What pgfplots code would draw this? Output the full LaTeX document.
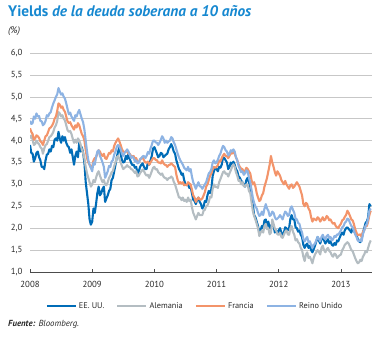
\documentclass[border=0pt]{standalone}
\usepackage{fontspec}
\setmainfont{PT Sans}
\usepackage{pgfplots}
\pgfplotsset{compat=1.18}
\usepackage{pgfplotstable}
\definecolor{cus}{RGB}{0,108,183}
\definecolor{cde}{RGB}{180,189,194}
\definecolor{cfr}{RGB}{243,148,106}
\definecolor{cuk}{RGB}{141,179,227}
\definecolor{ctitle}{RGB}{22,136,208}
\definecolor{ctext}{RGB}{40,40,40}

\pgfplotstableread{
x us de fr uk
2008.000 3.90 4.05 4.28 4.45
2008.021 3.72 4.12 4.20 4.38
2008.042 3.70 4.02 4.15 4.40
2008.062 3.52 3.90 4.02 4.55
2008.083 3.60 3.92 4.05 4.50
2008.104 3.72 4.00 4.12 4.62
2008.125 3.75 3.95 4.10 4.55
2008.146 3.62 3.92 4.06 4.56
2008.167 3.55 3.85 3.98 4.45
2008.188 3.40 3.82 3.96 4.44
2008.208 3.40 3.70 3.90 4.35
2008.229 3.35 3.82 4.00 4.38
2008.250 3.55 3.90 4.10 4.45
2008.271 3.68 3.92 4.12 4.58
2008.292 3.70 4.00 4.20 4.55
2008.312 3.80 4.08 4.28 4.62
2008.333 3.75 4.10 4.30 4.65
2008.354 3.88 4.14 4.34 4.76
2008.375 3.85 4.20 4.40 4.85
2008.396 4.02 4.30 4.50 4.92
2008.417 4.05 4.35 4.55 5.00
2008.438 4.00 4.45 4.68 5.06
2008.458 4.20 4.65 4.85 5.20
2008.479 4.05 4.62 4.82 5.12
2008.500 3.95 4.55 4.75 5.05
2008.521 4.10 4.58 4.78 5.08
2008.542 4.00 4.50 4.70 5.00
2008.562 4.08 4.46 4.66 4.96
2008.583 3.95 4.35 4.55 4.85
2008.604 3.88 4.24 4.44 4.72
2008.625 3.85 4.20 4.40 4.60
2008.646 3.72 4.22 4.42 4.64
2008.667 3.80 4.15 4.35 4.55
2008.688 3.62 4.04 4.30 4.50
2008.708 3.45 3.95 4.25 4.45
2008.729 3.65 4.02 4.35 4.58
2008.750 3.75 3.95 4.30 4.55
2008.771 3.62 4.05 4.40 4.64
2008.792 3.95 4.00 4.35 4.70
2008.812 3.75 3.92 4.25 4.60
2008.833 3.85 3.80 4.15 4.50
2008.854 3.72 3.72 4.10 4.42
2008.875 3.50 3.60 4.00 4.25
2008.896 3.05 3.40 3.78 4.00
2008.917 2.80 3.25 3.60 3.75
2008.938 2.55 3.15 3.50 3.55
2008.958 2.20 3.05 3.45 3.45
2008.979 2.08 2.95 3.38 3.38
2009.000 2.15 3.00 3.40 3.30
2009.021 2.45 3.10 3.55 3.50
2009.042 2.35 3.05 3.60 3.45
2009.062 2.55 3.15 3.62 3.62
2009.083 2.80 3.25 3.70 3.75
2009.104 2.95 3.30 3.78 3.78
2009.125 2.75 3.20 3.75 3.65
2009.146 2.80 3.12 3.68 3.58
2009.167 2.90 3.05 3.65 3.50
2009.188 2.95 3.10 3.70 3.40
2009.208 2.60 3.00 3.60 3.15
2009.229 2.68 2.98 3.58 3.22
2009.250 2.75 3.05 3.65 3.30
2009.271 2.85 3.15 3.72 3.42
2009.292 2.90 3.20 3.70 3.40
2009.312 3.10 3.28 3.78 3.52
2009.333 3.15 3.30 3.75 3.55
2009.354 3.30 3.42 3.88 3.68
2009.375 3.45 3.50 3.95 3.75
2009.396 3.62 3.62 4.00 3.86
2009.417 3.75 3.65 4.05 3.90
2009.438 3.85 3.58 3.98 3.86
2009.458 3.70 3.50 3.90 3.80
2009.479 3.55 3.42 3.80 3.70
2009.500 3.50 3.35 3.75 3.65
2009.521 3.52 3.38 3.74 3.72
2009.542 3.65 3.40 3.75 3.75
2009.562 3.58 3.44 3.76 3.80
2009.583 3.70 3.40 3.70 3.75
2009.604 3.58 3.40 3.70 3.68
2009.625 3.50 3.35 3.65 3.60
2009.646 3.44 3.34 3.64 3.64
2009.667 3.45 3.30 3.65 3.60
2009.688 3.38 3.26 3.58 3.52
2009.708 3.40 3.30 3.60 3.55
2009.729 3.25 3.18 3.52 3.48
2009.750 3.30 3.20 3.50 3.50
2009.771 3.40 3.26 3.56 3.58
2009.792 3.45 3.30 3.60 3.60
2009.812 3.48 3.34 3.62 3.64
2009.833 3.40 3.30 3.55 3.65
2009.854 3.35 3.24 3.50 3.60
2009.875 3.35 3.20 3.50 3.65
2009.896 3.50 3.22 3.52 3.74
2009.917 3.45 3.15 3.45 3.70
2009.938 3.55 3.22 3.50 3.82
2009.958 3.65 3.30 3.55 3.90
2009.979 3.82 3.38 3.60 4.00
2010.000 3.85 3.40 3.60 4.00
2010.021 3.78 3.34 3.56 3.96
2010.042 3.70 3.35 3.55 3.95
2010.062 3.62 3.28 3.50 3.90
2010.083 3.65 3.25 3.50 3.95
2010.104 3.72 3.22 3.48 4.02
2010.125 3.70 3.25 3.55 4.10
2010.146 3.62 3.18 3.48 4.05
2010.167 3.65 3.15 3.45 3.95
2010.188 3.68 3.14 3.44 4.00
2010.208 3.70 3.10 3.40 3.95
2010.229 3.80 3.14 3.44 3.98
2010.250 3.85 3.15 3.45 4.00
2010.271 3.92 3.18 3.48 4.08
2010.292 3.85 3.15 3.45 4.05
2010.312 3.75 3.06 3.42 3.96
2010.333 3.70 3.00 3.40 3.90
2010.354 3.55 2.90 3.22 3.80
2010.375 3.45 2.80 3.10 3.70
2010.396 3.35 2.70 3.02 3.62
2010.417 3.30 2.70 3.05 3.55
2010.438 3.22 2.64 3.02 3.50
2010.458 3.25 2.70 3.05 3.45
2010.479 3.10 2.62 2.98 3.38
2010.500 3.00 2.65 3.00 3.35
2010.521 2.98 2.60 2.98 3.32
2010.542 3.00 2.70 3.05 3.40
2010.562 2.92 2.62 3.02 3.30
2010.583 2.95 2.65 3.00 3.35
2010.604 2.80 2.48 2.88 3.18
2010.625 2.65 2.35 2.75 3.05
2010.646 2.62 2.28 2.70 2.98
2010.667 2.55 2.20 2.60 2.90
2010.688 2.65 2.28 2.66 2.98
2010.708 2.70 2.35 2.70 3.05
2010.729 2.60 2.30 2.66 2.96
2010.750 2.55 2.30 2.65 2.95
2010.771 2.45 2.30 2.68 2.90
2010.792 2.50 2.40 2.75 2.95
2010.812 2.62 2.42 2.82 3.00
2010.833 2.60 2.50 2.95 3.05
2010.854 2.75 2.52 3.00 3.15
2010.875 2.85 2.60 3.10 3.25
2010.896 2.80 2.72 3.20 3.28
2010.917 2.90 2.70 3.25 3.35
2010.938 3.20 2.90 3.35 3.50
2010.958 3.30 3.00 3.40 3.55
2010.979 3.38 2.94 3.38 3.48
2011.000 3.35 2.95 3.40 3.50
2011.021 3.30 2.92 3.44 3.56
2011.042 3.40 3.05 3.55 3.65
2011.062 3.38 3.12 3.52 3.70
2011.083 3.45 3.20 3.60 3.80
2011.104 3.62 3.28 3.66 3.88
2011.125 3.60 3.30 3.70 3.85
2011.146 3.55 3.24 3.64 3.78
2011.167 3.50 3.25 3.65 3.75
2011.188 3.35 3.18 3.60 3.66
2011.208 3.40 3.25 3.65 3.70
2011.229 3.50 3.32 3.72 3.78
2011.250 3.45 3.40 3.70 3.75
2011.271 3.52 3.46 3.74 3.80
2011.292 3.45 3.40 3.70 3.75
2011.312 3.35 3.28 3.62 3.62
2011.333 3.30 3.20 3.55 3.55
2011.354 3.18 3.08 3.46 3.42
2011.375 3.15 3.10 3.40 3.35
2011.396 3.08 3.00 3.36 3.28
2011.417 3.05 3.05 3.35 3.30
2011.438 2.98 2.96 3.28 3.22
2011.458 2.95 2.95 3.30 3.25
2011.479 3.10 3.00 3.38 3.32
2011.500 3.15 3.00 3.35 3.30
2011.521 3.05 2.85 3.30 3.15
2011.542 2.95 2.80 3.25 3.05
2011.562 2.75 2.60 3.10 2.88
2011.583 2.55 2.40 3.00 2.70
2011.604 2.30 2.28 3.05 2.58
2011.625 2.25 2.20 2.95 2.50
2011.646 2.15 2.10 2.80 2.45
2011.667 2.05 2.00 2.70 2.35
2011.688 1.90 1.82 2.62 2.28
2011.708 1.95 1.90 2.65 2.30
2011.729 2.05 1.95 2.75 2.38
2011.750 2.00 1.90 2.80 2.30
2011.771 2.18 2.05 2.95 2.45
2011.792 2.20 2.10 3.05 2.55
2011.812 2.05 1.98 3.15 2.45
2011.833 2.15 2.00 3.30 2.40
2011.854 2.00 1.86 3.45 2.28
2011.875 2.05 1.90 3.65 2.30
2011.896 2.10 2.20 3.50 2.38
2011.917 2.05 2.10 3.40 2.35
2011.938 1.90 1.98 3.28 2.25
2011.958 1.95 1.95 3.20 2.20
2011.979 1.88 1.86 3.30 2.22
2012.000 1.95 1.85 3.25 2.25
2012.021 2.00 1.90 3.20 2.30
2012.042 1.90 1.80 3.10 2.25
2012.062 1.85 1.78 3.05 2.20
2012.083 1.90 1.85 3.00 2.30
2012.104 2.02 1.92 3.08 2.38
2012.125 2.00 1.95 3.00 2.35
2012.146 1.95 1.86 2.95 2.28
2012.167 2.00 1.85 2.90 2.30
2012.188 2.22 2.00 2.98 2.45
2012.208 2.30 2.05 3.00 2.50
2012.229 2.20 1.92 2.92 2.42
2012.250 2.20 1.85 2.95 2.35
2012.271 2.02 1.72 3.00 2.22
2012.292 2.00 1.75 3.05 2.20
2012.312 1.92 1.68 3.00 2.12
2012.333 1.95 1.65 2.95 2.10
2012.354 1.85 1.55 2.85 1.98
2012.375 1.80 1.50 2.75 1.90
2012.396 1.62 1.35 2.55 1.75
2012.417 1.55 1.25 2.50 1.70
2012.438 1.62 1.40 2.58 1.76
2012.458 1.65 1.45 2.55 1.80
2012.479 1.55 1.32 2.45 1.68
2012.500 1.60 1.35 2.40 1.70
2012.521 1.50 1.28 2.25 1.62
2012.542 1.45 1.20 2.15 1.55
2012.562 1.52 1.32 2.22 1.62
2012.583 1.60 1.40 2.20 1.65
2012.604 1.70 1.45 2.18 1.72
2012.625 1.80 1.50 2.25 1.80
2012.646 1.72 1.46 2.22 1.76
2012.667 1.65 1.40 2.15 1.70
2012.688 1.75 1.55 2.20 1.80
2012.708 1.80 1.60 2.25 1.85
2012.729 1.72 1.50 2.18 1.78
2012.750 1.65 1.45 2.20 1.75
2012.771 1.70 1.52 2.28 1.82
2012.792 1.75 1.55 2.25 1.85
2012.812 1.66 1.48 2.18 1.78
2012.833 1.70 1.45 2.20 1.80
2012.854 1.62 1.38 2.14 1.72
2012.875 1.60 1.35 2.10 1.75
2012.896 1.66 1.42 2.12 1.82
2012.917 1.62 1.40 2.05 1.80
2012.938 1.72 1.32 2.02 1.86
2012.958 1.70 1.35 2.00 1.85
2012.979 1.78 1.38 2.06 1.90
2013.000 1.85 1.40 2.10 1.95
2013.021 1.90 1.50 2.18 2.02
2013.042 1.85 1.55 2.20 2.05
2013.062 1.95 1.62 2.26 2.12
2013.083 2.00 1.65 2.30 2.15
2013.104 2.02 1.68 2.40 2.22
2013.125 1.98 1.65 2.35 2.20
2013.146 1.95 1.58 2.28 2.12
2013.167 1.90 1.50 2.20 2.05
2013.188 2.00 1.48 2.18 2.02
2013.208 1.95 1.40 2.10 1.95
2013.229 1.88 1.32 1.98 1.86
2013.250 1.85 1.25 1.90 1.80
2013.271 1.75 1.20 1.84 1.72
2013.292 1.70 1.22 1.85 1.70
2013.312 1.68 1.28 1.86 1.74
2013.333 1.75 1.25 1.80 1.70
2013.354 1.90 1.35 1.92 1.86
2013.375 2.00 1.40 1.95 1.95
2013.396 2.12 1.48 2.05 2.05
2013.417 2.15 1.45 2.05 2.10
2013.438 2.25 1.55 2.15 2.22
2013.458 2.55 1.65 2.30 2.40
2013.480 2.50 1.72 2.40 2.45
}\yields

\begin{document}
\begin{tikzpicture}
\path[use as bounding box] (0pt,0pt) rectangle (382pt,338pt);
\node[anchor=base west, inner sep=0pt, font=\fontsize{15.3}{17}\selectfont\bfseries, color=ctitle] at (8pt,321pt) {Yields \itshape de la deuda soberana a 10 años};
\node[anchor=base west, inner sep=0pt, font=\fontsize{9.5}{11}\selectfont\itshape, color=ctext] at (8pt,304pt) {(\%)};
\node[anchor=base west, inner sep=0pt, font=\fontsize{8.8}{10}\selectfont\itshape, color=ctext] at (8pt,12pt) {\textbf{Fuente:} Bloomberg.};
\begin{axis}[
  at={(30pt,66pt)}, anchor=south west,
  scale only axis, width=342pt, height=219pt,
  xmin=2008, xmax=2013.5, ymin=1, ymax=6,
  xtick={2008,2009,2010,2011,2012,2013},
  ytick={1,1.5,2,2.5,3,3.5,4,4.5,5,5.5,6},
  axis x line*=bottom, axis y line*=left,
  y axis line style={draw=none},
  x axis line style={color=black!70, line width=0.7pt},
  ytick style={draw=none},
  xtick style={color=black!70, line width=0.6pt},
  tick align=inside, major tick length=3pt,
  ymajorgrids, major grid style={color=black!22, line width=0.6pt},
  /pgf/number format/assume math mode=true,
  tick label style={font=\fontsize{8.8}{10}\selectfont, color=ctext},
  y tick label style={xshift=-4pt, /pgf/number format/.cd, fixed, fixed zerofill, precision=1, use comma},
  x tick label style={yshift=-6pt, /pgf/number format/1000 sep={}},
  legend columns=4,
  legend style={at={(axis description cs:0.4825,-0.155)}, anchor=center, draw=none, fill=none,
    font=\fontsize{8.3}{10}\selectfont, text=ctext,
    /tikz/every even column/.append style={column sep=10pt}},
  legend image code/.code={\draw[#1, line width=2.2pt] (0pt,0pt) -- (29pt,0pt);},
  every axis plot/.append style={line width=2.1pt, line join=round},
]
\addplot[color=cus] table[x=x, y=us] {\yields};
\addlegendentry{EE. UU.}
\addplot[color=cde] table[x=x, y=de] {\yields};
\addlegendentry{Alemania}
\addplot[color=cfr] table[x=x, y=fr] {\yields};
\addlegendentry{Francia}
\addplot[color=cuk] table[x=x, y=uk] {\yields};
\addlegendentry{Reino Unido}
\end{axis}
\end{tikzpicture}
\end{document}
